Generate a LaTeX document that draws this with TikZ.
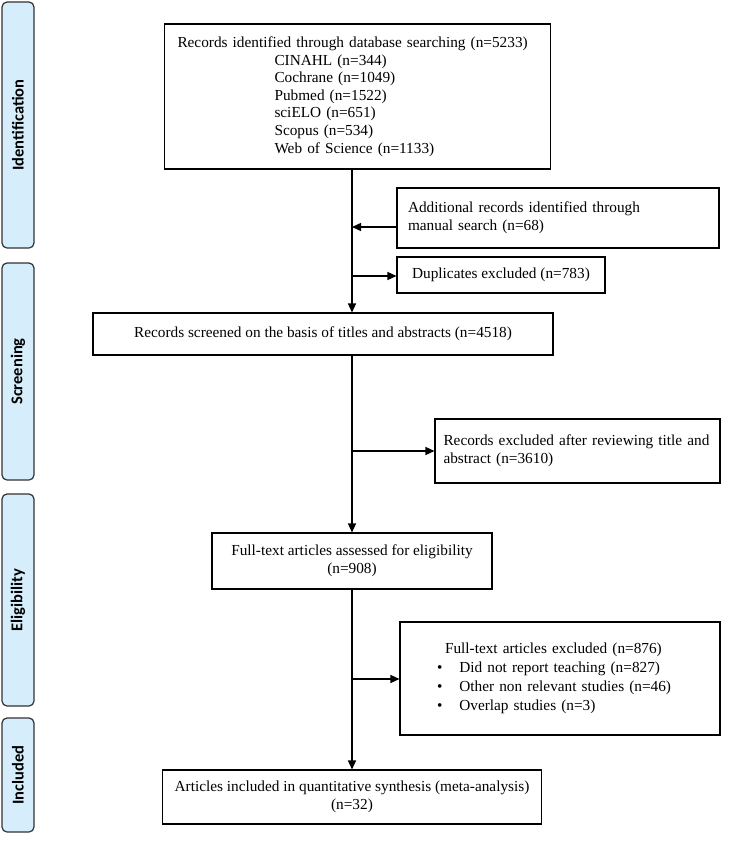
\documentclass[tikz,border=0pt]{standalone}
\usepackage{fontspec}
\setmainfont{Liberation Serif}
\newfontfamily\sidefont{Carlito}
\usetikzlibrary{arrows.meta}
\definecolor{sidefill}{RGB}{214,237,252}
\definecolor{sideline}{RGB}{50,50,50}
\begin{document}
\begin{tikzpicture}[x=1pt,y=-1pt,
  every node/.style={font=\fontsize{15.3}{17.6}\selectfont},
  box/.style={draw=black,line width=1.1pt,inner xsep=11pt,inner ysep=4pt},
  side/.style={draw=sideline,fill=sidefill,line width=1.2pt,rounded corners=5pt,
    minimum width=32pt,inner sep=0pt},
  sidelabel/.style={rotate=90,font=\sidefont\bfseries\fontsize{16.5}{18}\selectfont},
  conn/.style={line width=1.4pt,-{Triangle[length=9pt,width=8pt]}}]
\useasboundingbox (0,0) rectangle (737,841);

% side phases
\node[side,minimum height=246pt] (sid) at (18,125) {};
\node[sidelabel] (sidl) at (sid.center) {Identification};
\node[side,minimum height=217pt] (sscr) at (18,371.5) {};
\node[sidelabel] (sscrl) at (sscr.center) {Screening};
\node[side,minimum height=212pt] (selg) at (18,600) {};
\node[sidelabel] (selgl) at (selg.center) {Eligibility};
\node[side,minimum height=114pt] (sinc) at (18,775) {};
\node[sidelabel] (sincl) at (sinc.center) {Included};

% main boxes
\node[box,minimum width=381pt,minimum height=145pt,text width=360pt,align=left,inner xsep=13pt] (b1) at (357.5,96.5)
{Records identified through database searching (n=5233)\\
\hspace*{97pt}CINAHL (n=344)\\
\hspace*{97pt}Cochrane (n=1049)\\
\hspace*{97pt}Pubmed (n=1522)\\
\hspace*{97pt}sciELO (n=651)\\
\hspace*{97pt}Scopus (n=534)\\
\hspace*{97pt}Web of Science (n=1133)};

\node[box,minimum width=322pt,minimum height=60pt,text width=300pt,align=left] (add) at (558,218)
{Additional records identified through\\manual search (n=68)};

\node[box,minimum width=208pt,minimum height=36pt] (dup) at (501,275)
{Duplicates excluded (n=783)};

\node[box,minimum width=460pt,minimum height=42pt] (b2) at (323,334)
{Records screened on the basis of titles and abstracts (n=4518)};

\node[box,minimum width=285pt,minimum height=64pt,text width=276pt,inner xsep=4.5pt,align=left] (ex1) at (577.5,451)
{\hspace*{4pt}Records excluded after reviewing title and\\\hspace*{4pt}abstract (n=3610)};

\node[box,minimum width=280pt,minimum height=56pt,align=center] (b3) at (352,561)
{Full-text articles assessed for eligibility\\(n=908)};

\node[box,minimum width=320pt,minimum height=113pt,text width=298pt,align=left] (ex2) at (560,678.5)
{\hspace*{34pt}Full-text articles excluded (n=876)\\[1.2pt]
\hspace*{26pt}\textbullet\hspace{17pt}Did not report teaching (n=827)\\[1.2pt]
\hspace*{26pt}\textbullet\hspace{17pt}Other non relevant studies (n=46)\\[1.2pt]
\hspace*{26pt}\textbullet\hspace{17pt}Overlap studies (n=3)\\[4pt]};

\node[box,minimum width=300pt,minimum height=54pt,align=center,inner xsep=12pt] (b4) at (352,797)
{Articles included in quantitative synthesis (meta-analysis)\\(n=32)};

% connectors
\coordinate (jadd) at (352,227);
\coordinate (jdup) at (352,276);
\coordinate (jex1) at (352,451);
\coordinate (jex2) at (352,679);
\draw[conn] (b1.south -| jadd) -- (b2.north -| jadd);
\draw[conn] (add.west |- jadd) -- (jadd);
\draw[conn] (jdup) -- (dup.west |- jdup);
\draw[conn] (b2.south -| jex1) -- (b3.north -| jex1);
\draw[conn] (jex1) -- (ex1.west |- jex1);
\draw[conn] (b3.south -| jex2) -- (b4.north -| jex2);
\draw[conn] (jex2) -- (ex2.west |- jex2);
\end{tikzpicture}
\end{document}
